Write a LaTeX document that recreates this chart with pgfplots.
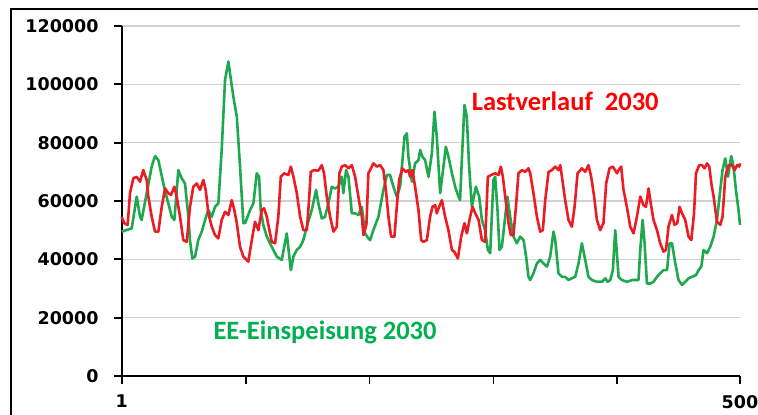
\documentclass[border=0pt]{standalone}
\usepackage{pgfplots}
\pgfplotsset{compat=1.18}
\usepackage{fontspec}
\setmainfont{Carlito}
\newfontfamily\dvs{DejaVu Sans}
\definecolor{lastred}{HTML}{EC1C24}
\definecolor{eegreen}{HTML}{1FA84F}
\definecolor{eetext}{HTML}{00B050}
\begin{document}
\begin{tikzpicture}
\useasboundingbox (0,0) rectangle (758pt,415pt);
\fill[white] (0,0) rectangle (758pt,415pt);
\draw[line width=2.2pt,black] (11pt,-30pt) -- (11pt,406pt) -- (790pt,406pt);
\begin{axis}[
  at={(121.7pt,39pt)}, anchor=south west,
  scale only axis, width=618.3pt, height=350pt,
  xmin=1, xmax=500, ymin=0, ymax=120000,
  axis lines*=left,
  axis line style={-, black, line width=2pt},
  xtick={1,101,201,301,401,500},
  xticklabels={1,,,,,500},
  ytick={0,20000,40000,60000,80000,100000,120000},
  tick align=outside,
  major tick length=8pt,
  tick style={black, line width=1.8pt},
  scaled y ticks=false,
  /pgf/number format/.cd, fixed, precision=0, 1000 sep={}, assume math mode=true,
  /pgfplots/.cd,
  tick label style={font=\dvs\bfseries\fontsize{17.5}{20}\selectfont, black},
  yticklabel style={anchor=east, inner sep=0pt, xshift=-15pt},
  xticklabel style={anchor=north, inner sep=0pt, yshift=-11pt},
  ymajorgrids,
  grid style={line width=1.4pt, color=black!18},
  clip=false,
]
\addplot[eegreen, line width=2.6pt, line join=round] coordinates {
(1,49500)(9.1,50600)(13.1,61500)(15.8,54600)(17.1,53500)(25.2,71800)(27.9,75400)(30.6,74000)(34.6,66000)(38.6,59200)(41.4,54600)(43.5,53500)(46.7,70600)(49.4,67800)(52.1,66000)(54.8,54600)(56.1,46600)(58,40300)(60.2,40900)(62.8,46600)(65.6,49500)(68.3,53500)(70.9,56900)(73.7,54600)(76.3,58000)(79,59200)(81.7,77500)(84.4,101500)(87.1,107800)(88.4,103800)(91.1,95800)(93.9,88900)(96.5,71800)(99.2,52400)(100.6,52400)(104.6,56900)(107.3,59200)(110,69500)(111.9,68300)(113.2,56900)(115.3,51800)(118.1,47800)(122.1,44300)(126.2,40900)(130.2,39800)(134.2,48900)(137.5,36300)(139.6,40900)(142.3,43200)(145,44300)(147.6,46600)(150.4,51200)(154.4,56900)(157.9,63800)(159.7,59200)(162.5,54000)(165.1,54600)(167.8,59200)(170.6,64900)(173.2,64300)(175.9,64900)(178.6,68300)(179.9,62700)(182.1,70600)(184,68300)(186.7,55800)(189.4,55800)(192,55200)(194.8,58000)(197.4,48900)(200.1,47200)(201.5,46600)(204.1,50000)(208.2,54600)(212.2,63800)(215,68900)(217.6,68900)(220.3,64900)(223,61500)(225.7,64900)(227.6,74000)(229.2,82000)(231.1,83200)(232.4,75200)(235.2,66600)(237.8,72900)(240.5,74000)(241.9,77500)(243.7,75200)(245.9,74000)(248.6,68300)(251.3,76300)(253.4,90600)(255.3,82000)(258,62700)(260.7,71800)(262.6,78600)(264.7,75200)(267.5,69500)(270.1,64900)(272.8,61500)(274.1,60300)(275.5,74000)(277.6,92900)(279.5,88900)(281.4,71800)(283.6,58000)(286.8,64900)(289.5,61500)(291.7,53500)(294.3,50000)(296.5,43200)(298.4,42100)(301,67200)(302.4,68300)(304.3,56900)(305.9,43200)(307.8,44300)(310.5,54600)(312.3,61500)(314.5,54600)(317.2,47800)(319.9,45500)(322.6,47800)(325.3,46600)(327.4,40900)(329.3,34000)(330.7,32900)(333.3,35200)(336.1,38600)(338.7,39800)(341.4,38600)(344.2,37500)(346.8,40900)(349.5,49500)(350.9,46600)(353.5,35200)(356.3,34000)(358.9,34000)(361.6,32900)(364.3,33500)(367,34000)(369.7,38600)(372.4,45500)(375.1,39800)(377.7,34000)(380.5,32900)(384.5,32300)(388.6,32300)(391.3,33500)(393.1,32300)(395.3,32900)(397.4,36300)(399.3,50000)(402,34000)(404.7,32900)(408.7,32300)(412.8,32900)(418.1,32900)(419.5,43200)(421.4,53500)(423,45500)(424.9,31700)(427.6,31700)(430.2,32300)(433,34000)(435.6,35200)(438.3,36300)(441.1,36300)(443.2,45500)(445.1,45500)(447.8,38600)(450.4,32900)(453.2,31200)(455.8,32300)(458.5,33500)(461.2,34000)(464.5,34600)(466.6,36300)(468.8,37500)(470.6,43200)(473.4,42100)(476,44300)(478.7,47800)(481.4,53500)(484.1,63800)(485.9,70600)(488.1,74600)(490.3,68300)(492.9,75400)(494.8,71800)(496.7,63800)(498.8,56900)(500,51800)
};
\addplot[lastred, line width=2.6pt, line join=round] coordinates {
(1,54600)(3.1,52400)(5.8,51800)(7.7,62700)(10.4,67800)(13.1,68300)(15.8,66600)(18.4,70600)(21.2,67200)(22.5,61500)(25.2,54600)(27.9,49500)(30.6,49500)(33.3,58000)(36,64300)(38.6,62700)(40.8,62100)(43.5,64900)(45.4,61500)(48.1,54600)(50.7,46600)(53.5,46000)(56.1,58000)(58.8,64900)(61.6,66000)(64.2,63800)(66.9,67200)(68.8,63800)(70.9,55800)(73.7,51200)(76.3,48300)(79,47200)(81.7,53500)(84.4,56300)(87.1,55200)(89.8,60300)(91.9,56900)(93.9,52400)(96.5,44300)(99.2,40900)(103.2,39200)(106,46600)(108.6,52900)(111.3,50000)(114,56900)(115.9,57500)(118.1,54600)(120.2,50000)(122.1,46000)(124.8,45500)(127.4,54600)(129.4,68300)(132,69500)(135.5,68900)(137.5,71800)(139.6,68300)(142.3,62700)(145,54600)(147.6,50000)(150.4,50000)(152.2,60300)(153.6,70000)(156.3,70600)(159.7,70400)(162.5,72300)(164.3,69500)(166.5,61500)(169.2,54600)(171.9,49500)(174.6,51200)(176.7,69500)(178.6,71800)(181.3,72300)(184,71200)(186.7,72300)(189.4,68300)(192,61500)(194.8,54600)(196.1,48300)(198.5,52000)(200.1,69500)(201.5,70600)(204.1,72900)(206.9,71800)(209.6,72300)(212.2,70600)(214.2,63800)(216.3,54600)(218.4,47800)(221.1,47800)(223,58000)(224.9,67200)(227.6,71200)(230.3,70000)(232.4,70600)(233.8,68300)(235.6,70600)(237.8,64900)(240.5,56900)(242.7,46600)(244.5,46000)(247.3,46600)(249.9,54600)(251.8,58000)(254,58600)(255.3,55800)(257.2,58000)(259.4,60300)(262,54600)(264.7,50000)(267.5,43200)(269.5,42600)(272.3,40300)(275,47800)(277.6,52400)(279.6,48900)(282.2,54600)(284.1,58000)(286.3,55800)(289,53500)(291.7,46600)(294.3,46000)(296.5,68300)(299.2,68900)(302.4,69500)(305.1,68900)(307,71800)(308.6,68300)(310.5,61500)(313.2,52400)(315.1,48300)(317.2,48300)(319.4,59200)(321.2,69500)(324,70600)(326.6,70000)(329.3,71200)(330.7,69500)(333.3,62700)(336.1,54600)(338.7,49500)(340.9,50000)(342.8,60300)(345.5,70000)(348.2,70600)(350.9,71800)(353.5,70600)(354.9,72300)(356.3,68300)(358.9,60300)(361.6,53500)(364.3,51200)(366.5,58000)(368.9,69500)(372.4,71200)(375.1,70000)(377.7,72300)(379.9,68300)(382.3,61500)(384.5,53500)(387.2,50000)(389.8,52400)(392,66000)(394.7,71200)(397.4,71800)(400.7,69500)(402,70600)(404.1,71800)(406,63800)(408.7,58000)(411.4,51200)(414.1,48900)(416.8,54600)(419.5,61500)(422.1,58600)(424.1,58000)(426.2,64300)(428.4,58000)(430.2,53500)(433,50000)(435.6,45500)(438.3,42600)(440.3,43200)(442.3,51200)(445.1,55200)(447.2,51800)(449.4,52400)(451.2,58000)(453.2,55800)(455.8,53500)(458.5,47800)(460.7,46600)(462.9,55800)(464.5,69500)(467.1,72300)(469.3,72300)(471.4,71200)(473.4,72900)(475.2,71800)(476.9,66000)(478.7,61500)(481.4,52900)(484.1,51800)(485.9,54600)(488.1,68300)(490.8,72300)(493.5,72300)(495.6,70600)(497.8,72300)(499.4,71800)(500,72900)
};
\end{axis}
\node[anchor=base west, inner sep=0pt, text=red, font=\bfseries\fontsize{26.5}{30}\selectfont] at (471.7pt,304pt) {Lastverlauf\ \ 2030};
\node[anchor=base west, inner sep=0pt, text=eetext, font=\bfseries\fontsize{26.5}{30}\selectfont] at (213.3pt,75pt) {EE-Einspeisung 2030};
\end{tikzpicture}
\end{document}
